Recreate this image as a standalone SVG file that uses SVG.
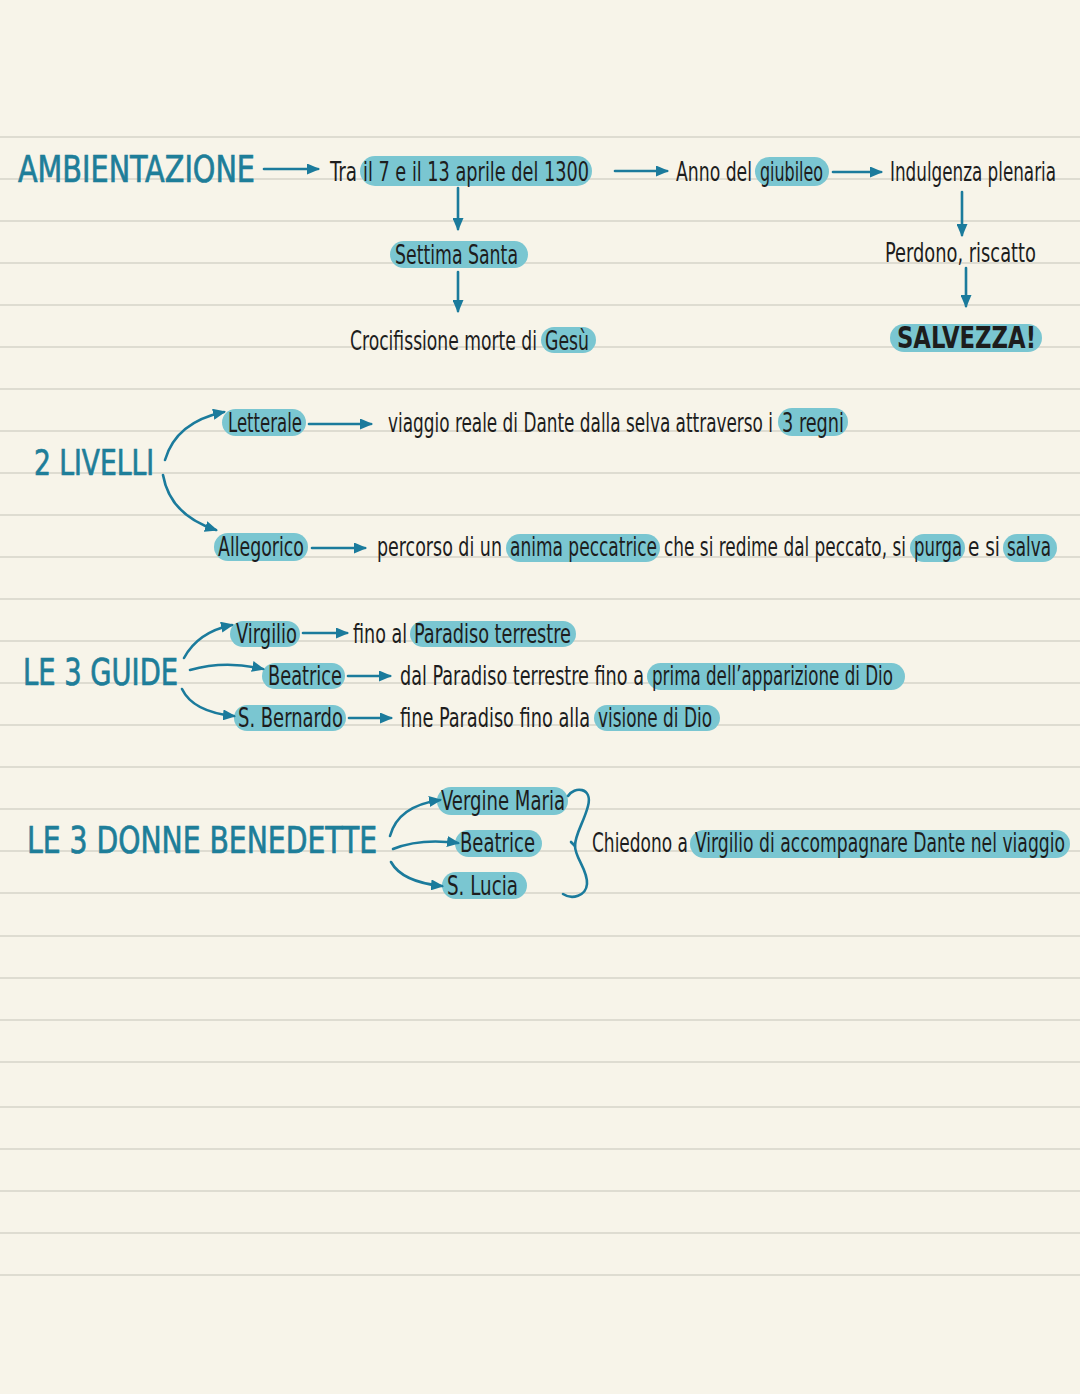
<svg xmlns="http://www.w3.org/2000/svg" width="1080" height="1394" viewBox="0 0 1080 1394">
<defs>
<style>
.t{font-family:"Liberation Sans Narrow","DejaVu Sans Condensed","Liberation Sans",sans-serif;font-size:26px;fill:#1d1d1d}
.h{font-family:"Liberation Sans Narrow","DejaVu Sans Condensed","Liberation Sans",sans-serif;font-size:38px;fill:#1e7e99;stroke:#1e7e99;stroke-width:0.7}
.b{font-weight:bold}
.hl{fill:#7ac6d1}
.ar{stroke:#1b7b9c;stroke-width:2.6;fill:none;stroke-linecap:round;marker-end:url(#ah)}
.ln{stroke:#dedcd1;stroke-width:2}
.br{stroke:#1b7b9c;stroke-width:2.6;fill:none;stroke-linecap:round;stroke-linejoin:round}
</style>
<marker id="ah" viewBox="0 0 13 11" refX="11" refY="5.5" markerWidth="13" markerHeight="11" markerUnits="userSpaceOnUse" orient="auto">
<path d="M0,0 L13,5.5 L0,11 z" fill="#1b7b9c"/>
</marker>
</defs>
<rect width="1080" height="1394" fill="#f7f4e9"/>
<g id="ruling">
<line class="ln" x1="0" y1="137" x2="1080" y2="137"/>
<line class="ln" x1="0" y1="179" x2="1080" y2="179"/>
<line class="ln" x1="0" y1="221" x2="1080" y2="221"/>
<line class="ln" x1="0" y1="263" x2="1080" y2="263"/>
<line class="ln" x1="0" y1="305" x2="1080" y2="305"/>
<line class="ln" x1="0" y1="347" x2="1080" y2="347"/>
<line class="ln" x1="0" y1="389" x2="1080" y2="389"/>
<line class="ln" x1="0" y1="431" x2="1080" y2="431"/>
<line class="ln" x1="0" y1="473" x2="1080" y2="473"/>
<line class="ln" x1="0" y1="515" x2="1080" y2="515"/>
<line class="ln" x1="0" y1="557" x2="1080" y2="557"/>
<line class="ln" x1="0" y1="599" x2="1080" y2="599"/>
<line class="ln" x1="0" y1="641" x2="1080" y2="641"/>
<line class="ln" x1="0" y1="683" x2="1080" y2="683"/>
<line class="ln" x1="0" y1="725" x2="1080" y2="725"/>
<line class="ln" x1="0" y1="767" x2="1080" y2="767"/>
<line class="ln" x1="0" y1="809" x2="1080" y2="809"/>
<line class="ln" x1="0" y1="851" x2="1080" y2="851"/>
<line class="ln" x1="0" y1="893" x2="1080" y2="893"/>
<line class="ln" x1="0" y1="936" x2="1080" y2="936"/>
<line class="ln" x1="0" y1="978" x2="1080" y2="978"/>
<line class="ln" x1="0" y1="1020" x2="1080" y2="1020"/>
<line class="ln" x1="0" y1="1062" x2="1080" y2="1062"/>
<line class="ln" x1="0" y1="1107" x2="1080" y2="1107"/>
<line class="ln" x1="0" y1="1149" x2="1080" y2="1149"/>
<line class="ln" x1="0" y1="1191" x2="1080" y2="1191"/>
<line class="ln" x1="0" y1="1233" x2="1080" y2="1233"/>
<line class="ln" x1="0" y1="1275" x2="1080" y2="1275"/>
</g>

<g id="ambientazione"><text class="h" x="18" y="182" textLength="237" lengthAdjust="spacingAndGlyphs">AMBIENTAZIONE</text></g>
<g id="data">
<rect class="hl" x="360" y="156" width="232" height="30" rx="15"/>
<text class="t" y="181"><tspan x="330" textLength="27" lengthAdjust="spacingAndGlyphs">Tra</tspan><tspan x="363" textLength="226" lengthAdjust="spacingAndGlyphs">il 7 e il 13 aprile del 1300</tspan></text>
</g>
<g id="settimana">
<rect class="hl" x="390" y="241" width="138" height="27" rx="13.5"/>
<text class="t" x="395" y="264" textLength="123" lengthAdjust="spacingAndGlyphs">Settima Santa</text>
</g>
<g id="crocifissione">
<rect class="hl" x="541" y="327" width="55" height="26" rx="13"/>
<text class="t" y="350"><tspan x="350" textLength="187" lengthAdjust="spacingAndGlyphs">Crocifissione morte di</tspan><tspan x="545" textLength="44" lengthAdjust="spacingAndGlyphs">Gesù</tspan></text>
</g>
<g id="giubileo">
<rect class="hl" x="755" y="157" width="74" height="29" rx="14.5"/>
<text class="t" y="181"><tspan x="676" textLength="76" lengthAdjust="spacingAndGlyphs">Anno del</tspan><tspan x="760" textLength="63" lengthAdjust="spacingAndGlyphs">giubileo</tspan></text>
</g>
<g id="indulgenza"><text class="t" x="890" y="181" textLength="166" lengthAdjust="spacingAndGlyphs">Indulgenza plenaria</text></g>
<g id="perdono"><text class="t" x="885" y="262" textLength="151" lengthAdjust="spacingAndGlyphs">Perdono, riscatto</text></g>
<g id="salvezza">
<rect class="hl" x="890" y="324" width="152" height="28" rx="14"/>
<text class="t b" x="897" y="348" textLength="139" lengthAdjust="spacingAndGlyphs" style="font-size:30px">SALVEZZA!</text>
</g>

<g id="livelli"><text class="h" x="34" y="475" textLength="120" lengthAdjust="spacingAndGlyphs" style="font-size:35px">2 LIVELLI</text></g>
<g id="letterale">
<rect class="hl" x="222" y="409" width="84" height="27" rx="13.5"/>
<text class="t" x="228" y="432" textLength="74" lengthAdjust="spacingAndGlyphs">Letterale</text>
</g>
<g id="viaggio">
<rect class="hl" x="778" y="408" width="70" height="28" rx="14"/>
<text class="t" y="432"><tspan x="388" textLength="385" lengthAdjust="spacingAndGlyphs">viaggio reale di Dante dalla selva attraverso i</tspan><tspan x="782" textLength="62" lengthAdjust="spacingAndGlyphs">3 regni</tspan></text>
</g>
<g id="allegorico">
<rect class="hl" x="214" y="533" width="94" height="28" rx="14"/>
<text class="t" x="218" y="556" textLength="86" lengthAdjust="spacingAndGlyphs">Allegorico</text>
</g>
<g id="percorso">
<rect class="hl" x="506" y="534" width="154" height="28" rx="14"/>
<rect class="hl" x="910" y="534" width="55" height="28" rx="14"/>
<rect class="hl" x="1003" y="534" width="54" height="28" rx="14"/>
<text class="t" y="556"><tspan x="377" textLength="125" lengthAdjust="spacingAndGlyphs">percorso di un</tspan><tspan x="510" textLength="147" lengthAdjust="spacingAndGlyphs">anima peccatrice</tspan><tspan x="664" textLength="242" lengthAdjust="spacingAndGlyphs">che si redime dal peccato, si</tspan><tspan x="914" textLength="48" lengthAdjust="spacingAndGlyphs">purga</tspan><tspan x="968" textLength="32" lengthAdjust="spacingAndGlyphs">e si</tspan><tspan x="1007" textLength="44" lengthAdjust="spacingAndGlyphs">salva</tspan></text>
</g>

<g id="guide"><text class="h" x="23" y="685" textLength="155" lengthAdjust="spacingAndGlyphs" style="font-size:37px">LE 3 GUIDE</text></g>
<g id="virgilio">
<rect class="hl" x="230" y="621" width="70" height="26" rx="13"/>
<text class="t" x="236" y="643" textLength="61" lengthAdjust="spacingAndGlyphs">Virgilio</text>
</g>
<g id="virgilio-desc">
<rect class="hl" x="410" y="621" width="166" height="26" rx="13"/>
<text class="t" y="643"><tspan x="353" textLength="54" lengthAdjust="spacingAndGlyphs">fino al</tspan><tspan x="414" textLength="157" lengthAdjust="spacingAndGlyphs">Paradiso terrestre</tspan></text>
</g>
<g id="beatrice-guida">
<rect class="hl" x="262" y="663" width="83" height="26" rx="13"/>
<text class="t" x="268" y="685" textLength="74" lengthAdjust="spacingAndGlyphs">Beatrice</text>
</g>
<g id="beatrice-desc">
<rect class="hl" x="647" y="663" width="258" height="27" rx="13.5"/>
<text class="t" y="685"><tspan x="400" textLength="244" lengthAdjust="spacingAndGlyphs">dal Paradiso terrestre fino a</tspan><tspan x="652" textLength="241" lengthAdjust="spacingAndGlyphs">prima dell’apparizione di Dio</tspan></text>
</g>
<g id="bernardo">
<rect class="hl" x="234" y="705" width="112" height="26" rx="13"/>
<text class="t" x="238" y="727" textLength="105" lengthAdjust="spacingAndGlyphs">S. Bernardo</text>
</g>
<g id="bernardo-desc">
<rect class="hl" x="594" y="705" width="126" height="26" rx="13"/>
<text class="t" y="727"><tspan x="400" textLength="190" lengthAdjust="spacingAndGlyphs">fine Paradiso fino alla</tspan><tspan x="598" textLength="114" lengthAdjust="spacingAndGlyphs">visione di Dio</tspan></text>
</g>

<g id="donne"><text class="h" x="27" y="853" textLength="350" lengthAdjust="spacingAndGlyphs" style="font-size:37px">LE 3 DONNE BENEDETTE</text></g>
<g id="vergine">
<rect class="hl" x="437" y="787" width="131" height="28" rx="14"/>
<text class="t" x="441" y="810" textLength="124" lengthAdjust="spacingAndGlyphs">Vergine Maria</text>
</g>
<g id="beatrice-donna">
<rect class="hl" x="455" y="830" width="87" height="27" rx="13.5"/>
<text class="t" x="460" y="852" textLength="75" lengthAdjust="spacingAndGlyphs">Beatrice</text>
</g>
<g id="lucia">
<rect class="hl" x="442" y="872" width="85" height="27" rx="13.5"/>
<text class="t" x="447" y="895" textLength="71" lengthAdjust="spacingAndGlyphs">S. Lucia</text>
</g>
<g id="chiedono">
<rect class="hl" x="690" y="830" width="380" height="28" rx="14"/>
<text class="t" y="852"><tspan x="592" textLength="96" lengthAdjust="spacingAndGlyphs">Chiedono a</tspan><tspan x="695" textLength="370" lengthAdjust="spacingAndGlyphs">Virgilio di accompagnare Dante nel viaggio</tspan></text>
</g>

<g id="connectors">
<path class="ar" d="M264,169 H318"/>
<path class="ar" d="M615,171 H667"/>
<path class="ar" d="M833,172 H881"/>
<path class="ar" d="M458,188 V229"/>
<path class="ar" d="M458,272 V311"/>
<path class="ar" d="M962,192 V235"/>
<path class="ar" d="M966,268 V306"/>
<path class="ar" d="M165,460 Q176,422 224,412"/>
<path class="ar" d="M163,475 Q170,515 216,530"/>
<path class="ar" d="M309,424 H371"/>
<path class="ar" d="M312,548 H365"/>
<path class="ar" d="M184,658 Q198,632 232,625"/>
<path class="ar" d="M190,670 Q225,660 263,669"/>
<path class="ar" d="M182,689 Q193,712 234,716"/>
<path class="ar" d="M303,633 H347"/>
<path class="ar" d="M348,676 H390"/>
<path class="ar" d="M349,718 H391"/>
<path class="ar" d="M390,836 Q398,806 440,800"/>
<path class="ar" d="M393,849 Q420,838 458,843"/>
<path class="ar" d="M391,862 Q402,882 442,886"/>
<path class="br" d="M568,796 C574,786 593,787 588,806 C584,822 575,834 575,846 C575,858 588,870 587,884 C586,896 572,900 563,894"/>
<path class="br" d="M575,846 L571,842"/>
</g>
</svg>
